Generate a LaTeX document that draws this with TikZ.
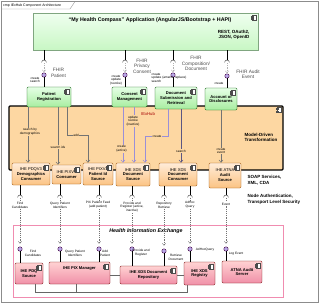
\documentclass[tikz,border=0pt]{standalone}
\usepackage{fontspec}
\setmainfont{Liberation Sans}
\usetikzlibrary{arrows.meta,positioning,calc}

\definecolor{appgreen}{HTML}{C8F7C4}
\definecolor{cmpgreen}{HTML}{A8EDA0}
\definecolor{hubfill}{HTML}{FDD7A2}
\definecolor{cmporange}{HTML}{FBC383}
\definecolor{cmppink}{HTML}{F090A8}
\definecolor{hieline}{HTML}{F08CB0}
\definecolor{lolli}{HTML}{B9A8E8}
\definecolor{flowpurple}{HTML}{9A8FD8}

\newcommand{\ftitle}{\fontsize{5.3}{6.2}\selectfont\bfseries}
\newcommand{\fnote}{\fontsize{4.5}{5.4}\selectfont\bfseries}
\newcommand{\fcmp}{\fontsize{4.1}{4.9}\selectfont\bfseries}
\newcommand{\fifc}{\fontsize{4.8}{5.4}\selectfont}
\newcommand{\fsml}{\fontsize{3.2}{3.7}\selectfont}

% little component glyph in the top right corner of a box
\newcommand{\cmpicon}[1]{%
  \draw[black!70,fill=white,line width=0.25pt] ([xshift=-6pt,yshift=-2pt]#1.north east) rectangle ++(3.5,5);
  \draw[black!70,fill=white,line width=0.25pt] ([xshift=-7pt,yshift=-3pt]#1.north east) rectangle ++(2,1);
  \draw[black!70,fill=white,line width=0.25pt] ([xshift=-7pt,yshift=-5.5pt]#1.north east) rectangle ++(2,1);}
% required interface cup, apex at the given coordinate
\newcommand{\sockt}[1]{%
  \draw[black!85,line width=0.4pt] ([xshift=-2.4pt,yshift=-2.4pt]#1) arc[start angle=180,end angle=0,radius=2.4pt];}

\begin{document}
\begin{tikzpicture}[x=1pt,y=-1pt,line width=0.4pt,
  greenbox/.style={draw=green!35!black,rounded corners=1.2pt,top color=green!10,bottom color=cmpgreen,align=center,font=\fcmp,inner sep=0.5pt},
  orangebox/.style={draw=orange!60!black,rounded corners=1.2pt,top color=orange!15,bottom color=cmporange,align=center,font=\fcmp,inner sep=0.5pt},
  pinkbox/.style={draw=red!45!black,rounded corners=1.2pt,top color=pink!70,bottom color=cmppink,align=center,font=\fcmp,inner sep=0.5pt},
  lolly/.style={circle,draw=violet!50!black,fill=lolli,inner sep=0pt,minimum size=4.4pt},
  ifc/.style={font=\fifc,text=black!70,align=center,inner sep=0.3pt},
  sml/.style={font=\fsml,align=center,inner sep=0.4pt},
  flow/.style={draw=black!55,line width=0.5pt,-{Straight Barb[length=2.5pt,width=4pt]}},
  pflow/.style={flow,draw=flowpurple},
  dep/.style={draw=black!55,dash pattern=on 1.2pt off 1pt,-{Straight Barb[length=2pt,width=3.5pt]}},
  link/.style={draw=black!60,line width=0.8pt}]
  \useasboundingbox (0,0) rectangle (320,306);

  % frame
  \draw[black!45] (1.5,1.5) rectangle (318,302);
  \draw[black!45] (1.5,9) -- (70,9) -- (75,1.5);
  \node[font=\fontsize{3.5}{4}\selectfont,anchor=west,inner sep=0pt] (frame) at (3,5.3) {cmp IExHub Component Architecture};

  % application
  \node[draw=green!30!black!50,top color=green!6,bottom color=appgreen,minimum width=225,minimum height=37,inner sep=0pt] (app) at (145.5,31.5) {};
  \node[font=\ftitle] (apptitle) at (150,20) {``My Health Compass'' Application (AngularJS/Bootstrap + HAPI)};
  \node[font=\fnote,align=right,anchor=east] (apprest) at (253,35) {REST, OAuth2,\\JSON, OpenID};
  \cmpicon{app}

  % IExHub
  \node[draw=black,line width=1.2pt,rounded corners=1pt,fill=hubfill,minimum width=274,minimum height=64,inner sep=0pt] (hub) at (146,138) {};
  \node[font=\fontsize{4.2}{5}\selectfont,text=red!65!black] (hubname) at (148,114) {IExHub};
  \node[font=\fnote,align=left,anchor=west] (mdt) at (241,137.5) {Model-Driven\\Transformation};
  \cmpicon{hub}

  % FHIR clients
  \node[greenbox,minimum width=44,minimum height=20] (patreg) at (49,97) {Patient\\Registration};
  \node[greenbox,minimum width=35,minimum height=20] (consent) at (129.5,97) {Consent\\Management};
  \node[greenbox,minimum width=42,minimum height=22] (docsub) at (176,98) {Document\\Submission and\\Retrieval};
  \node[greenbox,minimum width=32,minimum height=22] (aod) at (221,99) {Account of\\Disclosures};
  \cmpicon{patreg} \cmpicon{consent} \cmpicon{docsub} \cmpicon{aod}

  % FHIR interfaces
  \coordinate (s1) at (44,60); \coordinate (s2) at (125,60);
  \coordinate (s3) at (173,60); \coordinate (s4) at (227,60);
  \node[lolly] (l1) at (44,75) {}; \node[lolly] (l2) at (125,75) {};
  \node[lolly] (l3) at (173,75) {}; \node[lolly] (l4) at (227,76) {};
  \draw (app.south -| s1) -- (s1); \draw (app.south -| s2) -- (s2);
  \draw (app.south -| s3) -- (s3); \draw (app.south -| s4) -- (s4);
  \sockt{s1} \sockt{s2} \sockt{s3} \sockt{s4}
  \draw[dep,draw=black!30,shorten <=3pt,shorten >=0.5pt] (s1) -- (l1.north);
  \draw[dep,draw=black!30,shorten <=3pt,shorten >=0.5pt] (s2) -- (l2.north);
  \draw[dep,draw=black!30,shorten <=3pt,shorten >=0.5pt] (s3) -- (l3.north);
  \draw[dep,draw=black!30,shorten <=3pt,shorten >=0.5pt] (s4) -- (l4.north);
  \draw (l1) -- (l1 |- patreg.north); \draw (l2) -- (l2 |- consent.north);
  \draw (l3) -- (l3 |- docsub.north); \draw (l4) -- (l4 |- aod.north);
  \node[ifc] (f1) at (58.5,73) {FHIR\\Patient};
  \node[ifc] (f2) at (142,66) {FHIR\\Privacy\\Consent};
  \node[ifc] (f3) at (196,63.5) {FHIR\\Composition/\\Document};
  \node[ifc] (f4) at (248,74.5) {FHIR Audit\\Event};
  \node[sml] (u1) at (35,80) {create\\search};
  \node[sml] (u2) at (116,80) {create\\update\\(revoke)};
  \node[sml,align=left,anchor=north west] (u3) at (151,72.5) {create\\update (amend, replace)\\search};
  \node[sml] (u4) at (219,83) {create};

  % IHE actors inside IExHub
  \node[orangebox,minimum width=38,minimum height=22] (pdqc) at (31,174) {\mdseries IHE PDQV3\\Demographics\\Consumer};
  \node[orangebox,minimum width=29,minimum height=19] (pixc) at (66.5,174.5) {\mdseries IHE PIXV3\\Consumer};
  \node[orangebox,minimum width=30,minimum height=22] (pixs) at (98,174) {\mdseries IHE PIXV3\\Patient Id\\Source};
  \node[orangebox,minimum width=34,minimum height=23] (xdss) at (133,174.5) {\mdseries IHE XDS\\Document\\Source};
  \node[orangebox,minimum width=38,minimum height=23] (xdsc) at (178,174.5) {\mdseries IHE XDS\\Document\\Consumer};
  \node[orangebox,minimum width=32,minimum height=25] (atna) at (225,175.5) {\mdseries IHE ATNA\\Audit\\Source};
  \cmpicon{pdqc} \cmpicon{pixc} \cmpicon{pixs} \cmpicon{xdss} \cmpicon{xdsc} \cmpicon{atna}
  \node[font=\fnote,align=left,anchor=north west] (soap) at (244,172) {SOAP Services,\\XML, CDA};
  \node[font=\fnote,align=left,anchor=north west] (nat) at (244,191) {Node Authentication,\\Transport Level Security};

  % calls inside IExHub
  \draw[flow] ([xshift=-21pt]patreg.south) -- ([xshift=-21pt]patreg.south |- pdqc.north);
  \draw[flow] ([xshift=9pt]patreg.south) -- ([xshift=9pt]patreg.south |- pixc.north);
  \draw[flow] ([xshift=18pt]patreg.south) -- ++(0,28) -| ([xshift=-10pt]pixs.north);
  \draw[pflow] ([xshift=-6.5pt]consent.south) -- ([xshift=-6.5pt]consent.south |- xdss.north);
  \draw[pflow] ([xshift=4.5pt]consent.south) -- ([xshift=4.5pt]consent.south |- xdss.north);
  \draw[pflow] ([xshift=-8pt]docsub.south) -- ++(0,27) -| ([xshift=12pt]xdss.north);
  \draw[flow,draw=black!40!flowpurple] ([xshift=5pt]docsub.south) -- ([xshift=5pt]docsub.south |- xdsc.north);
  \draw[flow] (aod.south) -- (aod.south |- atna.north);
  \node[sml,fill=hubfill] (c1) at (30,132) {search by\\demographics};
  \node[sml,fill=hubfill] (c2) at (58,147) {search ids};
  \node[sml,fill=hubfill] (c3) at (76,135) {add};
  \node[sml,fill=hubfill] (c4) at (121.5,149) {create\\(active)};
  \node[sml,fill=hubfill] (c5) at (133,121) {update\\revoke\\(inactive)};
  \node[sml,fill=hubfill] (c6) at (157,136) {create};
  \node[sml,fill=hubfill] (c7) at (181,151) {search};
  \node[sml,fill=hubfill] (c8) at (221,151) {create\\event};

  % Health Information Exchange
  \draw[hieline,line width=1pt,fill=white] (13,225) rectangle (283,297);
  \node[font=\ftitle\itshape] (hie) at (146,231) {Health Information Exchange};
  \node[pinkbox,minimum width=28,minimum height=21] (pdqs) at (29,273.5) {IHE PDQ\\Source};
  \node[pinkbox,minimum width=61,minimum height=22] (pixm) at (79.5,273) {IHE PIX Manager\\[4pt]};
  \node[pinkbox,minimum width=57,minimum height=18] (xdsr) at (148.5,275) {IHE XDS Document\\Repository};
  \node[pinkbox,minimum width=31,minimum height=23] (reg) at (199.5,273.5) {IHE XDS\\Registry};
  \node[pinkbox,minimum width=40,minimum height=22] (arr) at (242,272) {ATNA Audit\\Server};
  \cmpicon{pdqs} \cmpicon{pixm} \cmpicon{xdsr} \cmpicon{reg} \cmpicon{arr}
  \coordinate (bus) at (0,292);
  \draw[link] ([xshift=6pt]pdqs.south) -- ([xshift=6pt]pdqs.south |- bus) -- ([xshift=-12.5pt]reg.south |- bus) -- ([xshift=-12.5pt]reg.south);
  \draw[link] ([xshift=-3pt]pixm.south) -- ([xshift=-3pt]pixm.south |- bus);
  \draw[link] (pixm.east |- xdsr.west) -- (xdsr.west);
  \draw[link] (xdsr.east) -- (xdsr.east -| reg.west);

  % IHE transactions
  \coordinate (b1) at (20,195); \coordinate (b2) at (60,195); \coordinate (b3) at (99,195);
  \coordinate (b4) at (132,195); \coordinate (b5) at (164,195); \coordinate (b6) at (190,195);
  \coordinate (b7) at (226,195);
  \draw (pdqc.south -| b1) -- (b1); \draw (pixc.south -| b2) -- (b2); \draw (pixs.south -| b3) -- (b3);
  \draw (xdss.south -| b4) -- (b4); \draw (xdsc.south -| b5) -- (b5); \draw (xdsc.south -| b6) -- (b6);
  \draw (atna.south -| b7) -- (b7);
  \sockt{b1} \sockt{b2} \sockt{b3} \sockt{b4} \sockt{b5} \sockt{b6} \sockt{b7}
  \node[lolly] (h1) at (20,249) {}; \node[lolly] (h2) at (60,249) {}; \node[lolly] (h3) at (99,249) {};
  \node[lolly] (h4) at (132,249) {}; \node[lolly] (h5) at (164,251) {}; \node[lolly] (h6) at (190,249) {};
  \node[lolly] (h7) at (226,249) {};
  \draw[dep,shorten <=2.5pt,shorten >=3pt] (b1) -- (h1.north);
  \draw[dep,shorten <=2.5pt,shorten >=3pt] (b2) -- (h2.north);
  \draw[dep,shorten <=2.5pt,shorten >=3pt] (b3) -- (h3.north);
  \draw[dep,shorten <=2.5pt,shorten >=3pt] (b4) -- (h4.north);
  \draw[dep,shorten <=2.5pt,shorten >=3pt] (b5) -- (h5.north);
  \draw[dep,shorten <=2.5pt,shorten >=3pt] (b6) -- (h6.north);
  \draw[dep,shorten <=2.5pt,shorten >=3pt] (b7) -- (h7.north);
  \node[sml,fill=white] (t1) at (20,205) {Find\\Candidates};
  \node[sml,fill=white] (t2) at (60,205) {Query Patient\\Identifiers};
  \node[sml,fill=white] (t3) at (98,205) {PIX Patient Feed\\(add patient)};
  \node[sml,fill=white] (t4) at (132,207) {Provide and\\Register (active,\\inactive)};
  \node[sml,fill=white] (t5) at (164,205) {Repository\\Retrieve};
  \node[sml,fill=white] (t6) at (190,205) {AdHoc\\Query};
  \node[sml,fill=white] (t7) at (226,204) {Event};
  \draw (h1) -- (h1 |- pdqs.north); \draw (h2) -- (h2 |- pixm.north); \draw (h3) -- (h3 |- pixm.north);
  \draw (h4) -- (h4 |- xdsr.north); \draw (h5) -- (h5 |- xdsr.north); \draw (h6) -- (h6 |- reg.north);
  \draw (h7) -- (h7 |- arr.north);
  \node[sml] (p1) at (33,253) {Find\\Candidates};
  \node[sml] (p2) at (75,253) {Query Patient\\Identifiers};
  \node[sml] (p3) at (105,253) {Add\\Patient};
  \node[sml] (p4) at (141,252.5) {Provide and\\Register};
  \node[sml] (p5) at (176,257) {Retrieve\\Document};
  \node[sml] (p6) at (205,250) {AdHocQuery};
  \node[sml] (p7) at (236,254) {Log Event};
\end{tikzpicture}
\end{document}
